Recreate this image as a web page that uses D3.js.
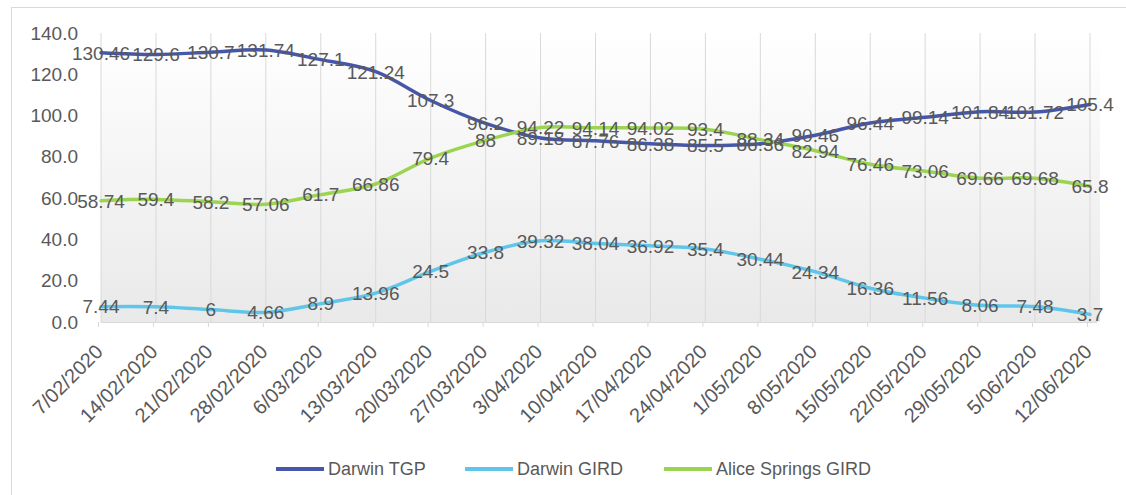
<!DOCTYPE html>
<html>
<head>
<meta charset="utf-8">
<script src="https://cdn.jsdelivr.net/npm/d3@7"></script>
<style>
  html, body { margin: 0; padding: 0; background: #fff; }
  svg { display: block; }
  text { font-family: "Liberation Sans", Arial, sans-serif; fill: #595959; }
</style>
</head>
<body>
<svg id="chart" width="1126" height="495"></svg>
<script>
const categories = ["7/02/2020","14/02/2020","21/02/2020","28/02/2020","6/03/2020","13/03/2020","20/03/2020","27/03/2020","3/04/2020","10/04/2020","17/04/2020","24/04/2020","1/05/2020","8/05/2020","15/05/2020","22/05/2020","29/05/2020","5/06/2020","12/06/2020"];
const darwinTGP = [130.46,129.6,130.7,131.74,127.1,121.24,107.3,96.2,89.18,87.76,86.38,85.5,86.36,90.46,96.44,99.14,101.84,101.72,105.4];
const darwinGIRD = [7.44,7.4,6,4.66,8.9,13.96,24.5,33.8,39.32,38.04,36.92,35.4,30.44,24.34,16.36,11.56,8.06,7.48,3.7];
const aliceGIRD = [58.74,59.4,58.2,57.06,61.7,66.86,79.4,88,94.22,94.14,94.02,93.4,88.34,82.94,76.46,73.06,69.66,69.68,65.8];
const seriesNames = ["Darwin TGP","Darwin GIRD","Alice Springs GIRD"];
const yTicks = [0,20,40,60,80,100,120,140];

const colors = ["#4656a8","#5fc6ea","#9bd450"];
const seriesValues = [darwinTGP, darwinGIRD, aliceGIRD];

const svg = d3.select("#chart");
const x0 = 101, x1 = 1090, yTop = 33, yBot = 322;

const x = d3.scalePoint().domain(categories).range([x0, x1]);
const y = d3.scaleLinear().domain([0, 140]).range([yBot, yTop]);

// chart border (top & left visible)
svg.append("rect").attr("x", 11.5).attr("y", 7.5).attr("width", 1200).attr("height", 600)
  .attr("fill", "none").attr("stroke", "#d9d9d9").attr("stroke-width", 1);

// gradient plot background
const defs = svg.append("defs");
const grad = defs.append("linearGradient").attr("id", "bg").attr("x1", 0).attr("y1", 0).attr("x2", 0).attr("y2", 1);
grad.append("stop").attr("offset", "0%").attr("stop-color", "#ffffff");
grad.append("stop").attr("offset", "100%").attr("stop-color", "#e9e9e9");
svg.append("rect").attr("x", x0).attr("y", yTop).attr("width", 1100 - x0).attr("height", yBot - yTop)
  .attr("fill", "url(#bg)");

// vertical gridlines
svg.append("g").selectAll("line").data(categories).join("line")
  .attr("x1", d => x(d)).attr("x2", d => x(d))
  .attr("y1", yTop).attr("y2", yBot)
  .attr("stroke", "#d9d9d9").attr("stroke-width", 1);

// x axis
const xAxis = d3.axisBottom(x).tickSize(5).tickFormat("");
const gx = svg.append("g").attr("transform", `translate(-3,${yBot})`).call(xAxis);
gx.select(".domain").attr("stroke", "#d9d9d9").attr("d", `M${x0 + 3},0.5H${1100}`);
gx.selectAll(".tick line").attr("stroke", "#d9d9d9");

// x labels rotated
svg.append("g").selectAll("text").data(categories).join("text")
  .attr("transform", d => `translate(${x(d) + 3},${353}) rotate(-45)`)
  .attr("text-anchor", "end")
  .style("font-size", "20px")
  .text(d => d);

// y axis labels
const yAxis = d3.axisLeft(y).tickValues(yTicks).tickSize(0).tickPadding(0).tickFormat(d3.format(".1f"));
const gy = svg.append("g").attr("transform", `translate(78,0)`).call(yAxis);
gy.select(".domain").remove();
gy.selectAll("text").style("font-size", "19px").attr("fill", "#595959")
  .style("font-family", "Liberation Sans, Arial, sans-serif");

// lines
const line = d3.line().x((d, i) => x(categories[i])).y(d => y(d)).curve(d3.curveCardinal.tension(0));
seriesValues.forEach((vals, s) => {
  svg.append("path").datum(vals).attr("d", line)
    .attr("fill", "none").attr("stroke", colors[s]).attr("stroke-width", 3.5)
    .attr("stroke-linejoin", "round").attr("stroke-linecap", "round");
});

// data labels
seriesValues.forEach((vals, s) => {
  svg.append("g").selectAll("text").data(vals).join("text")
    .attr("x", (d, i) => x(categories[i]))
    .attr("y", d => y(d))
    .attr("dy", "0.36em")
    .attr("text-anchor", "middle")
    .style("font-size", "19px")
    .text(d => d);
});

// legend
const legendItems = [
  {name: seriesNames[0], color: colors[0], lx: 276},
  {name: seriesNames[1], color: colors[1], lx: 465},
  {name: seriesNames[2], color: colors[2], lx: 664}
];
const lg = svg.append("g");
legendItems.forEach(it => {
  lg.append("line").attr("x1", it.lx).attr("x2", it.lx + 48).attr("y1", 469).attr("y2", 469)
    .attr("stroke", it.color).attr("stroke-width", 4);
  lg.append("text").attr("x", it.lx + 52).attr("y", 469).attr("dy", "0.36em")
    .style("font-size", "18px").text(it.name);
});
</script>
</body>
</html>
